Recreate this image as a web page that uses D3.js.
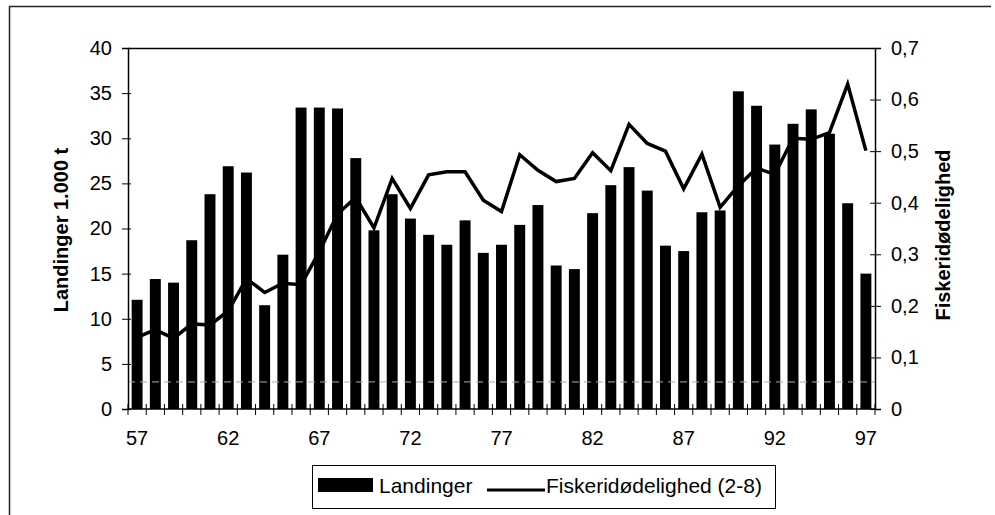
<!DOCTYPE html>
<html>
<head>
<meta charset="utf-8">
<script src="https://cdn.jsdelivr.net/npm/d3@7"></script>
<style>
  body { margin: 0; background: #fff; }
  svg { font-family: "Liberation Sans", Arial, sans-serif; }
</style>
</head>
<body>
<div id="chart"></div>
<script>
var years = ["57","58","59","60","61","62","63","64","65","66","67","68","69","70","71","72","73","74","75","76","77",
  "78","79","80","81","82","83","84","85","86","87","88","89","90","91","92","93","94","95","96","97"];
var landinger = [12.1, 14.4, 14.0, 18.7, 23.8, 26.9, 26.2, 11.5, 17.1, 33.4, 33.4, 33.3, 27.8, 19.8, 23.8, 21.1, 19.3, 18.2, 20.9, 17.3, 18.2,
  20.4, 22.6, 15.9, 15.5, 21.7, 24.8, 26.8, 24.2, 18.1, 17.5, 21.8, 22.0, 35.2, 33.6, 29.3, 31.6, 33.2, 30.5, 22.8, 15.0];
var fiskeri = [0.139, 0.154, 0.137, 0.165, 0.163, 0.19, 0.253, 0.226, 0.244, 0.241, 0.305, 0.378, 0.41, 0.351, 0.447, 0.389, 0.454, 0.46, 0.46, 0.405, 0.383,
  0.493, 0.463, 0.441, 0.447, 0.497, 0.462, 0.552, 0.515, 0.5, 0.427, 0.494, 0.391, 0.433, 0.467, 0.455, 0.525, 0.523, 0.536, 0.63, 0.501];
var leftTicks = [0, 5, 10, 15, 20, 25, 30, 35, 40];
var rightTicks = [0, 0.1, 0.2, 0.3, 0.4, 0.5, 0.6, 0.7];
var xLabels = ["57", "62", "67", "72", "77", "82", "87", "92", "97"];
var refLevel = 3;

var width = 995, height = 515;
var margin = { top: 48, right: 120, bottom: 106, left: 128 };
var plotW = width - margin.left - margin.right;
var plotH = height - margin.top - margin.bottom;

var svg = d3.select("#chart")
  .append("svg")
  .attr("width", width)
  .attr("height", height);

// outer frame (only top and left edges survive in the scan)
svg.append("path")
  .attr("d", "M9.5," + height + "V6.5H" + (width - 4))
  .attr("fill", "none")
  .attr("stroke", "#222")
  .attr("stroke-width", 1.5);

var g = svg.append("g")
  .attr("transform", "translate(" + margin.left + "," + margin.top + ")");

var x = d3.scaleBand()
  .domain(years)
  .range([0, plotW])
  .paddingInner(0.4)
  .paddingOuter(0.2);

var yL = d3.scaleLinear().domain([0, 40]).range([plotH, 0]);
var yR = d3.scaleLinear().domain([0, 0.7]).range([plotH, 0]);

// plot border top
g.append("line")
  .attr("x1", 0).attr("x2", plotW)
  .attr("y1", 0.5).attr("y2", 0.5)
  .attr("stroke", "#000").attr("stroke-width", 1.5);

// bars
g.selectAll(".bar")
  .data(landinger)
  .enter()
  .append("rect")
  .attr("class", "bar")
  .attr("x", function (d, i) { return x(years[i]); })
  .attr("width", x.bandwidth())
  .attr("y", function (d) { return yL(d); })
  .attr("height", function (d) { return plotH - yL(d); })
  .attr("fill", "#000");

// grey dashed reference line
g.append("line")
  .attr("x1", 0).attr("x2", plotW)
  .attr("y1", yL(refLevel)).attr("y2", yL(refLevel))
  .attr("stroke", "#aaa")
  .attr("stroke-width", 1)
  .attr("stroke-dasharray", "7,5");

// mortality line
var line = d3.line()
  .x(function (d, i) { return x(years[i]) + x.bandwidth() / 2; })
  .y(function (d) { return yR(d); });

g.append("path")
  .datum(fiskeri)
  .attr("d", line)
  .attr("fill", "none")
  .attr("stroke", "#000")
  .attr("stroke-width", 3.5)
  .attr("stroke-linejoin", "miter");

// left axis
var axL = g.append("g")
  .call(d3.axisLeft(yL).tickValues(leftTicks).tickSize(6).tickPadding(10));
axL.selectAll("text").style("font-size", "20px").attr("fill", "#000");
axL.selectAll("line").attr("x2", -6).attr("x1", 3);
axL.select(".domain").attr("stroke-width", 1.5);

// right axis
var axR = g.append("g")
  .attr("transform", "translate(" + plotW + ",0)")
  .call(d3.axisRight(yR).tickValues(rightTicks).tickSize(6).tickPadding(10)
    .tickFormat(function (d) { return d === 0 ? "0" : d3.format(".1f")(d).replace(".", ","); }));
axR.selectAll("text").style("font-size", "20px").attr("fill", "#000");
axR.selectAll("line").attr("x1", -5);
axR.select(".domain").attr("stroke-width", 1.5);

// bottom axis: ticks at category boundaries, labels every 5 years
var bounds = years.map(function (d) { return x(d) - x.step() * x.paddingInner() / 2; });
bounds.push(plotW);
var axB = g.append("g").attr("transform", "translate(0," + plotH + ")");
axB.append("line")
  .attr("x1", 0).attr("x2", plotW)
  .attr("stroke", "#000").attr("stroke-width", 1.5);
axB.selectAll(".tk")
  .data(bounds)
  .enter()
  .append("line")
  .attr("class", "tk")
  .attr("x1", function (d) { return d; })
  .attr("x2", function (d) { return d; })
  .attr("y1", -5).attr("y2", 6)
  .attr("stroke", "#000");
axB.selectAll(".lbl")
  .data(xLabels)
  .enter()
  .append("text")
  .attr("class", "lbl")
  .attr("x", function (d) { return x(d) + x.bandwidth() / 2; })
  .attr("y", 36)
  .attr("text-anchor", "middle")
  .style("font-size", "20px")
  .text(function (d) { return d; });

// axis titles
svg.append("text")
  .attr("transform", "translate(68,230) rotate(-90)")
  .attr("text-anchor", "middle")
  .style("font-size", "20px")
  .style("font-weight", "bold")
  .text("Landinger 1.000 t");

svg.append("text")
  .attr("transform", "translate(950,235) rotate(-90)")
  .attr("text-anchor", "middle")
  .style("font-size", "20px")
  .style("font-weight", "bold")
  .text("Fiskeridødelighed");

// legend
var lg = svg.append("g").attr("transform", "translate(312,465)");
lg.append("rect")
  .attr("x", 0.5).attr("y", 0.5)
  .attr("width", 463).attr("height", 43)
  .attr("fill", "#fff").attr("stroke", "#000");
lg.append("rect")
  .attr("x", 6).attr("y", 13)
  .attr("width", 55).attr("height", 14)
  .attr("fill", "#000");
lg.append("text")
  .attr("x", 67).attr("y", 28)
  .style("font-size", "21px")
  .text("Landinger");
lg.append("line")
  .attr("x1", 175).attr("x2", 233)
  .attr("y1", 25).attr("y2", 25)
  .attr("stroke", "#000").attr("stroke-width", 3);
lg.append("text")
  .attr("x", 234).attr("y", 28)
  .style("font-size", "21px")
  .text("Fiskeridødelighed (2-8)");
</script>
</body>
</html>
